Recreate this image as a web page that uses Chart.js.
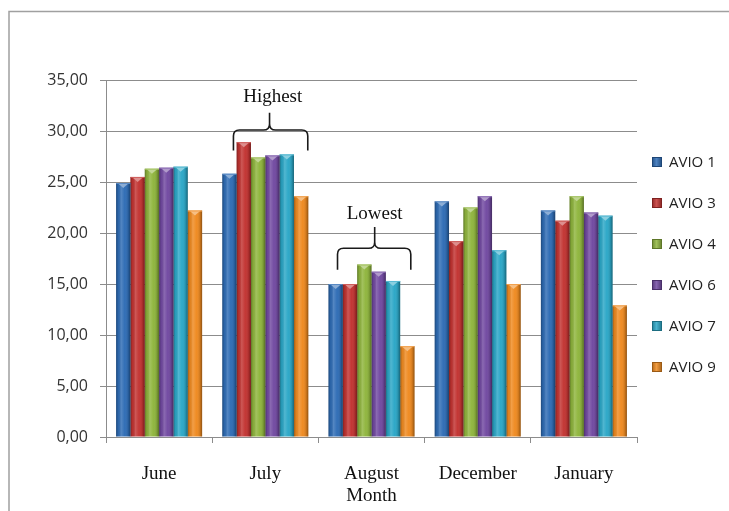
<!DOCTYPE html>
<html>
<head>
<meta charset="utf-8">
<script src="https://cdn.jsdelivr.net/npm/chart.js@4.4.1/dist/chart.umd.min.js"></script>
<style>
  html, body { margin: 0; padding: 0; background: #ffffff; }
  #wrap { width: 729px; height: 511px; position: relative; }
</style>
</head>
<body>
<div id="wrap"><canvas id="chart" width="729" height="511"></canvas></div>
<script>
// Monthly values per AVIO station
const months = ['June', 'July', 'August', 'December', 'January'];
const seriesNames = ['AVIO 1', 'AVIO 3', 'AVIO 4', 'AVIO 6', 'AVIO 7', 'AVIO 9'];
const avio1 = [24.9, 25.8, 15.0, 23.1, 22.2];
const avio3 = [25.5, 28.9, 15.0, 19.2, 21.2];
const avio4 = [26.3, 27.4, 16.9, 22.5, 23.6];
const avio6 = [26.4, 27.6, 16.2, 23.6, 22.0];
const avio7 = [26.5, 27.7, 15.3, 18.3, 21.7];
const avio9 = [22.2, 23.6, 8.9, 15.0, 12.9];
const yTicks = [0, 5, 10, 15, 20, 25, 30, 35];
const noteLabels = ['Highest', 'Lowest'];

const seriesValues = [avio1, avio3, avio4, avio6, avio7, avio9];
const seriesColors = ['#2e6cb5', '#c23331', '#8fb53d', '#7149a1', '#2ba7c7', '#ef8a20'];

// Brace annotations, placed in data units (category index offset, value)
const braces = [
  { text: noteLabels[0], cat: 1, from: -0.30, to: 0.40, tip: 0.04, textAt: 0.07, yText: 33.3, yTip: 31.8, yMid: 30.1, yEnd: 28.1 },
  { text: noteLabels[1], cat: 2, from: -0.32, to: 0.37, tip: 0.03, textAt: 0.03, yText: 21.9, yTip: 20.6, yMid: 18.5, yEnd: 16.4 }
];

function shade(hex, amt) {
  const n = parseInt(hex.slice(1), 16);
  let r = (n >> 16) & 255, g = (n >> 8) & 255, b = n & 255;
  if (amt >= 0) {
    r = r + (255 - r) * amt; g = g + (255 - g) * amt; b = b + (255 - b) * amt;
  } else {
    r = r * (1 + amt); g = g * (1 + amt); b = b * (1 + amt);
  }
  return 'rgb(' + Math.round(r) + ',' + Math.round(g) + ',' + Math.round(b) + ')';
}

const gridColor = '#8c8c8c';
const serif = "'Liberation Serif', 'Times New Roman', serif";
const sans = "'Open Sans', 'DejaVu Sans', sans-serif";

// Outer frame line
const framePlugin = {
  id: 'frame',
  beforeDraw(chart) {
    const ctx = chart.ctx;
    ctx.save();
    ctx.fillStyle = '#ffffff';
    ctx.fillRect(0, 0, chart.width, chart.height);
    ctx.strokeStyle = '#a0a0a0';
    ctx.lineWidth = 1.5;
    ctx.beginPath();
    ctx.moveTo(9, chart.height + 2);
    ctx.lineTo(9, 11.5);
    ctx.lineTo(chart.width + 2, 11.5);
    ctx.stroke();
    ctx.restore();
  }
};

// Cylinder-like shading and light cap on every bar
const bevelPlugin = {
  id: 'bevel',
  afterDatasetsDraw(chart) {
    const ctx = chart.ctx;
    ctx.save();
    chart.data.datasets.forEach((ds, di) => {
      const meta = chart.getDatasetMeta(di);
      meta.data.forEach(el => {
        const p = el.getProps(['x', 'y', 'base', 'width'], true);
        const left = p.x - p.width / 2;
        const g = ctx.createLinearGradient(left, 0, left + p.width, 0);
        g.addColorStop(0, 'rgba(0,0,0,0.32)');
        g.addColorStop(0.15, 'rgba(0,0,0,0.06)');
        g.addColorStop(0.35, 'rgba(255,255,255,0.18)');
        g.addColorStop(0.6, 'rgba(255,255,255,0.02)');
        g.addColorStop(0.85, 'rgba(0,0,0,0.14)');
        g.addColorStop(1, 'rgba(0,0,0,0.40)');
        ctx.fillStyle = g;
        ctx.fillRect(left, p.y, p.width, p.base - p.y);
        // light cap
        ctx.fillStyle = shade(ds.backgroundColor, 0.45);
        ctx.beginPath();
        ctx.moveTo(left + 1.5, p.y);
        ctx.lineTo(left + p.width - 1.5, p.y);
        ctx.lineTo(p.x, p.y + 5);
        ctx.closePath();
        ctx.fill();
        ctx.fillStyle = shade(ds.backgroundColor, 0.2);
        ctx.fillRect(left, p.y, p.width, 1);
      });
    });
    ctx.restore();
  }
};

// Curly brace annotations
const bracePlugin = {
  id: 'braces',
  afterDatasetsDraw(chart) {
    const ctx = chart.ctx;
    const xs = chart.scales.x, ys = chart.scales.y;
    const cw = xs.getPixelForValue(1) - xs.getPixelForValue(0);
    ctx.save();
    braces.forEach(b => {
      const c = xs.getPixelForValue(b.cat);
      const x0 = c + b.from * cw, x1 = c + b.to * cw, xt = c + b.tip * cw;
      const yTip = ys.getPixelForValue(b.yTip), yMid = ys.getPixelForValue(b.yMid), yEnd = ys.getPixelForValue(b.yEnd);
      const r = 6;
      ctx.strokeStyle = '#1a1a1a';
      ctx.lineWidth = 1.6;
      ctx.beginPath();
      ctx.moveTo(x0, yEnd);
      ctx.lineTo(x0, yMid + r);
      ctx.quadraticCurveTo(x0, yMid, x0 + r, yMid);
      ctx.lineTo(xt - r, yMid);
      ctx.quadraticCurveTo(xt, yMid, xt, yMid - r);
      ctx.lineTo(xt, yTip);
      ctx.moveTo(xt, yMid - r);
      ctx.quadraticCurveTo(xt, yMid, xt + r, yMid);
      ctx.lineTo(x1 - r, yMid);
      ctx.quadraticCurveTo(x1, yMid, x1, yMid + r);
      ctx.lineTo(x1, yEnd);
      ctx.stroke();
      ctx.fillStyle = '#111111';
      ctx.font = '19px ' + serif;
      ctx.textAlign = 'center';
      ctx.textBaseline = 'middle';
      ctx.fillText(b.text, c + b.textAt * cw, ys.getPixelForValue(b.yText));
    });
    ctx.restore();
  }
};

// Legend on the right, one row per series
const sideLegend = {
  id: 'sideLegend',
  afterDraw(chart) {
    const ctx = chart.ctx;
    const area = chart.chartArea;
    const n = chart.data.datasets.length;
    const step = 41;
    const mid = (area.top + area.bottom) / 2 + 6;
    ctx.save();
    chart.data.datasets.forEach((ds, i) => {
      const cy = mid + (i - (n - 1) / 2) * step;
      const bx = area.right + 15;
      const g = ctx.createLinearGradient(bx, 0, bx + 10, 0);
      g.addColorStop(0, shade(ds.backgroundColor, -0.25));
      g.addColorStop(0.45, shade(ds.backgroundColor, 0.15));
      g.addColorStop(1, shade(ds.backgroundColor, -0.3));
      ctx.fillStyle = g;
      ctx.fillRect(bx, cy - 5, 10, 10);
      ctx.strokeStyle = shade(ds.backgroundColor, -0.35);
      ctx.lineWidth = 1;
      ctx.strokeRect(bx + 0.5, cy - 4.5, 9, 9);
      ctx.fillStyle = '#222222';
      ctx.font = '15px ' + sans;
      ctx.textAlign = 'left';
      ctx.textBaseline = 'middle';
      ctx.fillText(ds.label, bx + 17, cy + 1);
    });
    ctx.restore();
  }
};

const datasets = seriesNames.map((name, i) => ({
  label: name,
  data: seriesValues[i],
  backgroundColor: seriesColors[i],
  borderWidth: 0,
  categoryPercentage: 0.81,
  barPercentage: 1.0
}));

new Chart(document.getElementById('chart'), {
  type: 'bar',
  data: { labels: months, datasets },
  plugins: [framePlugin, bevelPlugin, bracePlugin, sideLegend],
  options: {
    responsive: false,
    animation: false,
    devicePixelRatio: 1,
    layout: { padding: { top: 80, right: 92, bottom: 0, left: 0 } },
    plugins: {
      legend: { display: false },
      tooltip: { enabled: false }
    },
    scales: {
      x: {
        grid: { drawOnChartArea: false, drawTicks: true, tickLength: 6, color: gridColor, offset: true },
        border: { color: gridColor, width: 1 },
        ticks: { font: { family: serif, size: 19 }, color: '#111111', padding: 20 },
        title: { display: true, text: 'Month', font: { family: serif, size: 19 }, color: '#111111', padding: { top: 0, bottom: 4 } },
        afterFit(scale) { scale.height = 74; }
      },
      y: {
        min: 0,
        max: 35,
        afterBuildTicks(scale) { scale.ticks = yTicks.map(v => ({ value: v })); },
        grid: { color: gridColor, tickLength: 6, lineWidth: 1 },
        border: { color: gridColor, width: 1 },
        ticks: {
          font: { family: sans, size: 16 },
          color: '#333333',
          padding: 12,
          callback: v => Number(v).toFixed(2).replace('.', ',')
        },
        afterFit(scale) { scale.width = 106; }
      }
    }
  }
});
</script>
</body>
</html>
